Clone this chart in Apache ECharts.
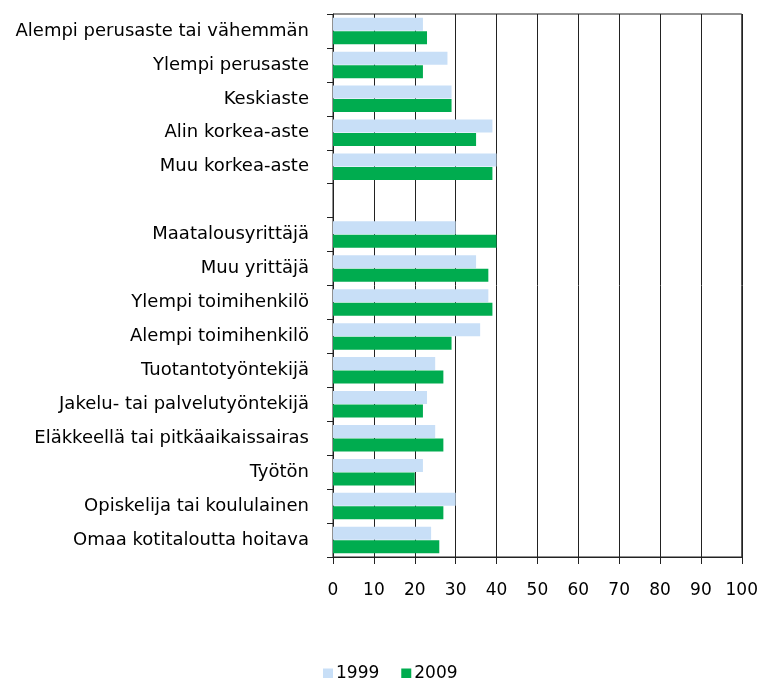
<!DOCTYPE html>
<html>
<head>
<meta charset="utf-8">
<script src="https://cdn.jsdelivr.net/npm/echarts@6/dist/echarts.min.js"></script>
<style>
html,body{margin:0;padding:0;background:#fff;}
#chart{width:761px;height:678px;}
</style>
</head>
<body>
<div id="chart"></div>
<script>
const categories = [
  'Alempi perusaste tai vähemmän',
  'Ylempi perusaste',
  'Keskiaste',
  'Alin korkea-aste',
  'Muu korkea-aste',
  '',
  'Maatalousyrittäjä',
  'Muu yrittäjä',
  'Ylempi toimihenkilö',
  'Alempi toimihenkilö',
  'Tuotantotyöntekijä',
  'Jakelu- tai palvelutyöntekijä',
  'Eläkkeellä tai pitkäaikaissairas',
  'Työtön',
  'Opiskelija tai koululainen',
  'Omaa kotitaloutta hoitava'
];
const values1999 = [22, 28, 29, 39, 40, null, 30, 35, 38, 36, 25, 23, 25, 22, 30, 24];
const values2009 = [23, 22, 29, 35, 39, null, 40, 38, 39, 29, 27, 22, 27, 20, 27, 26];
const seriesNames = ['1999', '2009'];
const xTicks = {min: 0, max: 100, interval: 10};

const chart = echarts.init(document.getElementById('chart'), null, {renderer: 'canvas'});
const font = 'DejaVu Sans';
chart.setOption({
  animation: false,
  backgroundColor: '#ffffff',
  grid: {left: 333, right: 16, top: 14, bottom: 121, show: true, borderColor: '#222', borderWidth: 1, containLabel: false},
  legend: {
    data: seriesNames,
    left: 318, top: 660,
    itemWidth: 10, itemHeight: 10, itemGap: 22,
    icon: 'rect',
    textStyle: {fontFamily: font, fontSize: 17, color: '#000', padding: [0,0,0,-2]}
  },
  xAxis: {
    type: 'value',
    min: xTicks.min, max: xTicks.max, interval: xTicks.interval,
    axisLine: {show: true, lineStyle: {color: '#222', width: 1}},
    axisTick: {show: true, length: 7, lineStyle: {color: '#222'}},
    axisLabel: {fontFamily: font, fontSize: 17, color: '#000', margin: 25},
    splitLine: {show: true, lineStyle: {color: '#222', width: 1}}
  },
  yAxis: {
    type: 'category',
    data: categories,
    inverse: true,
    axisLine: {show: true, lineStyle: {color: '#222', width: 1}},
    axisTick: {show: true, length: 6, lineStyle: {color: '#222'}},
    axisLabel: {fontFamily: font, fontSize: 18, color: '#000', margin: 24, interval: 0},
    splitLine: {show: false}
  },
  series: [
    {name: seriesNames[0], type: 'bar', data: values1999, barCategoryGap: '22%', barGap: '4%',
     itemStyle: {color: '#c8dff7'}},
    {name: seriesNames[1], type: 'bar', data: values2009, barCategoryGap: '22%', barGap: '4%',
     itemStyle: {color: '#00ac4f'}}
  ]
});
</script>
</body>
</html>
